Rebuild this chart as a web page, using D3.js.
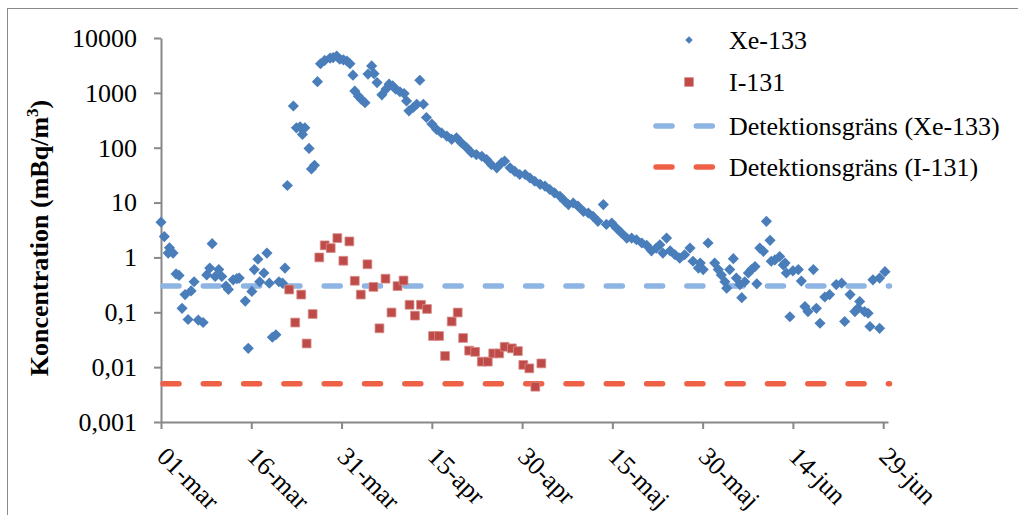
<!DOCTYPE html>
<html>
<head>
<meta charset="utf-8">
<script src="https://cdn.jsdelivr.net/npm/d3@7"></script>
<style>
  html, body { margin: 0; padding: 0; background: #fff; }
  svg { display: block; }
  text { font-family: "Times New Roman", "Liberation Serif", serif; fill: #000; }
</style>
</head>
<body>
<script>
// days since 1 March 2011
const xeDays = [0, 0.55, 1.2, 1.4, 2.0, 2.5, 3.0, 3.5, 4.0, 4.5, 5.0, 5.5, 6.2, 7.0, 7.6, 8.1, 8.5, 9.0, 9.6, 10.1,
  10.8, 11.2, 12.0, 12.6, 13.0, 14.0, 14.5, 15.1, 15.5, 16.1, 16.4, 17.1, 17.6, 18.0, 18.5, 19.1, 19.6, 20.2, 20.6,
  21.0, 22.0, 22.5, 23.1, 23.5, 23.9, 24.6, 25.0, 25.5, 26.0, 26.5, 27.2, 28.1, 28.6, 29.2, 29.7, 30.3, 30.9, 31.4,
  31.9, 32.2, 32.8, 33.3, 33.9, 34.4, 35.0, 35.4, 35.9, 36.7, 37.4, 37.9, 38.5, 39.0, 39.7, 40.4, 40.8, 41.2, 41.9,
  42.5, 43.0, 43.6, 44.1, 45.0, 45.8, 46.6, 47.5, 48.3, 49.1, 49.9, 50.8, 51.6, 52.4, 53.3, 54.1, 54.9, 55.8, 56.6,
  57.1, 58.0, 58.8, 59.6, 60.5, 61.3, 62.1, 63.0, 63.8, 64.6, 65.4, 66.3, 67.1, 67.7, 68.5, 69.3, 70.2, 71.0, 71.8,
  72.6, 73.5, 74.0, 74.9, 75.7, 76.5, 77.4, 78.2, 79.0, 79.9, 80.7, 81.5, 82.3, 82.9, 83.4, 84.0, 84.6, 85.4, 86.2,
  87.0, 87.9, 88.4, 89.3, 89.6, 90.1, 90.9, 92.0, 92.6, 93.1, 93.7, 94.0, 94.5, 95.1, 95.6, 96.2, 96.5, 97.0, 97.6,
  98.1, 98.7, 99.0, 99.5, 100.1, 100.6, 101.2, 101.4, 102.0, 102.8, 103.4, 103.7, 103.9, 104.5, 105.0, 105.9, 106.4,
  107.0, 107.5, 108.4, 108.9, 109.5, 110.3, 111.1, 112.2, 113.1, 113.6, 114.5, 115.3, 115.8, 116.1, 116.9, 117.5,
  117.8, 118.3, 119.4, 119.4, 120.3];
const xeValues = [4.4, 2.4, 1.2, 1.5, 1.2, 0.5, 0.47, 0.118, 0.21, 0.074, 0.245, 0.36, 0.072, 0.065, 0.48, 0.64, 1.78, 0.45, 0.6, 0.45,
  0.3, 0.26, 0.39, 0.41, 0.42, 0.16, 0.022, 0.24, 0.6, 0.93, 0.36, 0.52, 1.2, 0.34, 0.035, 0.039, 0.36, 0.34, 0.64,
  20.5, 575, 230, 240, 175, 230, 97, 41, 48, 1600, 3400, 3900, 4300, 4400, 4700, 4100, 4000, 3800, 3400,
  2100, 1080, 870, 760, 660, 2200, 3100, 2240, 1540, 920, 1170, 1440, 1340, 1170, 1050, 970, 710, 470, 540,
  620, 1700, 620, 355, 270, 215, 186, 163, 142, 152, 123, 100, 81, 75, 70, 61, 49, 43, 53,
  57, 43, 37, 32.5, 32.5, 28, 24.5, 21.5, 20, 17.3, 15, 13, 10.6, 9.2, 9.8, 8.6, 6.9, 6.45, 5.6,
  4.55, 9.2, 4.0, 4.25, 3.4, 2.8, 2.25, 2.25, 2.1, 1.83, 1.66, 1.32, 1.48, 1.7, 1.2, 2.25, 1.32, 1.12, 0.97,
  1.12, 1.48, 0.85, 0.64, 0.79, 0.6, 1.83, 0.79, 0.6, 0.48, 0.36, 0.275, 0.6, 0.95, 0.42, 0.32, 0.185, 0.36, 0.52,
  0.6, 0.68, 0.33, 1.48, 1.29, 4.55, 2.05, 0.85, 0.9, 1.04, 0.73, 0.79, 0.52, 0.083, 0.57, 0.6, 0.37,
  0.127, 0.103, 0.6, 0.118, 0.063, 0.19, 0.21, 0.32, 0.34, 0.068, 0.21, 0.103, 0.118, 0.157, 0.103, 0.096,
  0.055, 0.39, 0.42, 0.051, 0.55];

const iDays = [21.3, 22.3, 23.3, 24.2, 25.2, 26.3, 27.2, 28.2, 29.3, 30.3, 31.3, 32.2, 33.2, 34.3, 35.3, 36.3,
  37.3, 38.3, 39.3, 40.3, 41.3, 42.2, 43.2, 44.2, 45.2, 46.2, 47.2, 48.3, 49.3, 50.2, 51.2, 52.2, 53.3, 54.3,
  55.2, 56.2, 57.1, 58.3, 59.3, 60.2, 61.2, 62.2, 63.2];
const iValues = [0.26, 0.065, 0.21, 0.027, 0.093, 1.0, 1.66, 1.48, 2.25, 0.87, 1.96, 0.375, 0.21, 0.75, 0.29, 0.051,
  0.41, 0.099, 0.30, 0.38, 0.137, 0.087, 0.137, 0.115, 0.037, 0.037, 0.016, 0.068, 0.099, 0.034, 0.020, 0.019, 0.0126, 0.0126,
  0.0178, 0.0178, 0.0235, 0.022, 0.0196, 0.011, 0.0095, 0.0044, 0.0117];

const limitXe = 0.3;
const limitI = 0.005;

const xTickDays = [0, 15, 30, 45, 60, 75, 90, 105, 120];
const xTickLabels = ['01-mar', '16-mar', '31-mar', '15-apr', '30-apr', '15-maj', '30-maj', '14-jun', '29-jun'];
const yTicks = [0.001, 0.01, 0.1, 1, 10, 100, 1000, 10000];
const yTickLabels = ['0,001', '0,01', '0,1', '1', '10', '100', '1000', '10000'];
const seriesNames = ['Xe-133', 'I-131', 'Detektionsgräns (Xe-133)', 'Detektionsgräns (I-131)'];

const width = 1018;
const height = 515;
const blue = '#4a7ebb';
const red = '#be4b48';
const lightBlue = '#8db4e2';
const orange = '#ef6146';
const axisColor = '#888888';

const start = Date.UTC(2011, 2, 1);
const toDate = (d) => new Date(start + d * 864e5);

const svg = d3.select('body').append('svg')
  .attr('width', width)
  .attr('height', height);

// outer frame
svg.append('rect')
  .attr('x', 7.5).attr('y', 8.5)
  .attr('width', 1030).attr('height', 530)
  .attr('fill', 'none')
  .attr('stroke', '#8a8a8a')
  .attr('stroke-width', 1);

const x = d3.scaleUtc()
  .domain([toDate(0), toDate(120.8)])
  .range([161, 888]);

const y = d3.scaleLog()
  .domain([0.001, 10000])
  .range([422, 38]);

// axes
const yAxis = svg.append('g')
  .attr('transform', 'translate(161,0)')
  .call(d3.axisLeft(y)
    .tickValues(yTicks)
    .tickFormat((d, i) => yTickLabels[i])
    .tickSize(7)
    .tickSizeOuter(0)
    .tickPadding(17));

const xAxis = svg.append('g')
  .attr('transform', 'translate(0,422)')
  .call(d3.axisBottom(x)
    .tickValues(xTickDays.map(toDate))
    .tickFormat((d, i) => xTickLabels[i])
    .tickSize(7)
    .tickSizeOuter(0));

[xAxis, yAxis].forEach((g) => {
  g.selectAll('path, line').attr('stroke', axisColor).attr('stroke-width', 2);
  g.selectAll('text')
    .style('font-family', '"Times New Roman", "Liberation Serif", serif')
    .style('font-size', '26px')
    .attr('fill', '#000');
});

xAxis.selectAll('text')
  .attr('x', 0).attr('y', 0).attr('dy', 0)
  .attr('text-anchor', 'start')
  .attr('transform', 'translate(-6,36) rotate(45)');

// y axis title
const title = svg.append('text')
  .attr('transform', 'translate(48,238) rotate(-90)')
  .attr('text-anchor', 'middle')
  .style('font-weight', 'bold')
  .style('font-size', '26px');
title.append('tspan').text('Koncentration (mBq/m');
title.append('tspan').attr('dy', -10).style('font-size', '17px').text('3');
title.append('tspan').attr('dy', 10).text(')');

// detection limits
const limits = [
  { value: limitXe, color: lightBlue },
  { value: limitI, color: orange }
];

svg.selectAll('line.limit')
  .data(limits)
  .enter()
  .append('line')
  .classed('limit', true)
  .attr('x1', x(toDate(0)) + 2)
  .attr('x2', x(toDate(120.8)) + 1.5)
  .attr('y1', (d) => y(d.value))
  .attr('y2', (d) => y(d.value))
  .attr('stroke', (d) => d.color)
  .attr('stroke-width', 5.5)
  .attr('stroke-linecap', 'round')
  .attr('stroke-dasharray', '16,24.3');

// Xe-133 points
const diamond = d3.symbol(d3.symbolSquare, 62);
svg.append('g')
  .selectAll('path')
  .data(xeDays.map((d, i) => ({ day: d, value: xeValues[i] })))
  .enter()
  .append('path')
  .attr('d', diamond)
  .attr('transform', (d) => 'translate(' + x(toDate(d.day)) + ',' + y(d.value) + ') rotate(45)')
  .attr('fill', blue);

// I-131 points
const square = d3.symbol(d3.symbolSquare, 78);
svg.append('g')
  .selectAll('path')
  .data(iDays.map((d, i) => ({ day: d, value: iValues[i] })))
  .enter()
  .append('path')
  .attr('d', square)
  .attr('transform', (d) => 'translate(' + x(toDate(d.day)) + ',' + y(d.value) + ')')
  .attr('fill', red)
  .attr('stroke', '#d88e8c')
  .attr('stroke-width', 0.8);

// legend
const legendRows = [40, 82, 126, 167];
const legend = svg.append('g');

legend.append('path')
  .attr('d', d3.symbol(d3.symbolSquare, 28))
  .attr('transform', 'translate(689,' + legendRows[0] + ') rotate(45)')
  .attr('fill', blue);

legend.append('path')
  .attr('d', square)
  .attr('transform', 'translate(689,' + legendRows[1] + ')')
  .attr('fill', red)
  .attr('stroke', '#d88e8c')
  .attr('stroke-width', 0.8);

[lightBlue, orange].forEach((c, i) => {
  legend.append('line')
    .attr('x1', 656).attr('x2', 713)
    .attr('y1', legendRows[i + 2]).attr('y2', legendRows[i + 2])
    .attr('stroke', c)
    .attr('stroke-width', 5.5)
    .attr('stroke-linecap', 'round')
    .attr('stroke-dasharray', '16,24.3');
});

legend.selectAll('text')
  .data(seriesNames)
  .enter()
  .append('text')
  .attr('x', 729)
  .attr('y', (d, i) => legendRows[i] + 8.5)
  .style('font-size', '26px')
  .text((d) => d);
</script>
</body>
</html>
